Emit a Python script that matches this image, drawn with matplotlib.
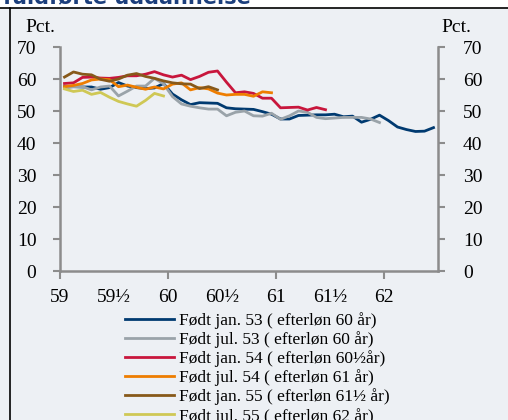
import matplotlib
matplotlib.use("Agg")
import matplotlib.pyplot as plt
import numpy as np
from matplotlib.lines import Line2D
from matplotlib.patches import Rectangle

# monthly values, one series per cohort (each cohort 6 months shorter)
jan53 = [57.6, 57.6, 57.5, 57.5, 56.8, 57.3, 58.9, 57.8, 57.3, 57.0, 57.2, 58.6,
         55.3, 53.5, 52.0, 52.6, 52.5, 52.4, 51.0, 50.7, 50.6, 50.5, 49.8, 49.0,
         47.5, 47.5, 48.6, 48.7, 48.8, 48.8, 49.0, 48.2, 48.4, 46.5, 47.4, 48.7,
         47.0, 45.0, 44.2, 43.6, 43.7, 44.8]
jul53 = [57.1, 57.6, 57.6, 56.6, 57.5, 57.8, 54.7, 56.2, 57.8, 57.8, 60.2, 58.5,
         54.5, 52.2, 51.5, 51.0, 50.6, 50.6, 48.5, 49.6, 50.0, 48.5, 48.4, 49.3,
         47.4, 48.5, 50.0, 49.6, 48.0, 47.6, 47.8, 48.0, 48.0, 48.0, 47.5, 46.4]
jan54 = [58.6, 58.8, 60.5, 60.6, 60.3, 60.2, 60.5, 61.0, 61.0, 61.5, 62.3, 61.3,
         60.6, 61.2, 59.8, 60.8, 62.1, 62.5, 59.0, 55.7, 56.0, 55.5, 54.0, 54.0,
         51.0, 51.1, 51.2, 50.3, 51.1, 50.4]
jul54 = [57.6, 58.0, 58.6, 59.7, 60.0, 59.8, 57.6, 58.1, 57.4, 56.8, 57.5, 56.9,
         58.4, 58.8, 56.6, 57.3, 56.9, 55.6, 55.0, 55.2, 55.2, 54.6, 56.0, 55.7]
jan55 = [60.6, 62.2, 61.5, 61.3, 59.9, 59.3, 60.0, 61.2, 61.7, 60.8, 60.2, 59.4,
         58.8, 58.5, 58.4, 57.0, 57.6, 56.6]
jul55 = [56.9, 56.1, 56.5, 55.2, 55.8, 54.3, 53.0, 52.2, 51.5, 53.3, 55.5, 54.7]

series = [jan53, jul53, jan54, jul54, jan55, jul55]
labels = ["Født jan. 53 ( efterløn 60 år)",
          "Født jul. 53 ( efterløn 60 år)",
          "Født jan. 54 ( efterløn 60½år)",
          "Født jul. 54 ( efterløn 61 år)",
          "Født jan. 55 ( efterløn 61½ år)",
          "Født jul. 55 ( efterløn 62 år)"]
colors = ["#003a70", "#9aa3a9", "#c8163c", "#ee7d00", "#87591a", "#cfc855"]

xtick_labels = ["59", "59½", "60", "60½", "61", "61½", "62"]
yticks = [0, 10, 20, 30, 40, 50, 60, 70]

plt.rcParams['font.family'] = ['Liberation Serif', 'DejaVu Serif']
bg = "#edf0f4"
axis_col = "#8c8c8c"

W, H = 508, 420
fig = plt.figure(figsize=(W / 100, H / 100), dpi=100)
fig.patch.set_facecolor(bg)

ax = fig.add_axes([60 / W, 1 - 271 / H, 378 / W, 224 / H])
ax.set_facecolor(bg)
n_cat = len(jan53)
for vals, col, lab in zip(series, colors, labels):
    x = np.arange(len(vals)) + 0.5
    ax.plot(x, vals, color=col, lw=2.0, label=lab, solid_joinstyle='round')

ax.set_xlim(0, n_cat)
ax.set_ylim(0, 70)
ax.set_yticks(yticks)
# labels every half year, tick marks every year
ax.xaxis.remove_overlapping_locs = False
ax.set_xticks(np.arange(0, 37, 6))
ax.set_xticklabels(xtick_labels)
ax.set_xticks(np.arange(0, 37, 12), minor=True)
ax.tick_params(axis='x', which='major', length=0, pad=13, labelsize=14)
ax.tick_params(axis='x', which='minor', length=6, width=1.5, color=axis_col)
ax.tick_params(axis='y', length=5, width=1.5, color=axis_col, labelsize=14, pad=12)

for s in ['top', 'right']:
    ax.spines[s].set_visible(False)
for s in ['left', 'bottom']:
    ax.spines[s].set_color(axis_col)
    ax.spines[s].set_linewidth(1.8)

ax2 = ax.twinx()
ax2.set_ylim(0, 70)
ax2.set_yticks(yticks)
ax2.tick_params(axis='y', length=5, width=1.5, color=axis_col, labelsize=14, pad=13)
for s in ['top', 'left', 'bottom']:
    ax2.spines[s].set_visible(False)
ax2.spines['right'].set_color(axis_col)
ax2.spines['right'].set_linewidth(1.8)

fig.text(40 / W, 1 - 27 / H, "Pct.", ha='center', va='center', fontsize=14)
fig.text(456 / W, 1 - 27 / H, "Pct.", ha='center', va='center', fontsize=14)

handles, labs = ax.get_legend_handles_labels()
fig.legend(handles, labs, loc='upper left', bbox_to_anchor=(125 / W, 1 - 312 / H),
           frameon=False, fontsize=12.5, borderpad=0, borderaxespad=0,
           handlelength=2.8, handletextpad=0.3, labelspacing=0.13)

# frame from the surrounding page
fig.add_artist(Rectangle((0, 1 - 8 / H), 1, 8 / H, transform=fig.transFigure,
                         facecolor='white', edgecolor='none', zorder=0))
fig.text(3 / W, 1 - 3 / H, "fuldførte uddannelse", ha='left', va='baseline',
         fontsize=15, fontweight='bold', color="#1c3f7c", family='DejaVu Sans')
fig.add_artist(Line2D([0, 1], [1 - 8 / H, 1 - 8 / H], transform=fig.transFigure,
                      color='black', lw=1.2))
fig.add_artist(Line2D([9.5 / W, 9.5 / W], [0, 1 - 8 / H], transform=fig.transFigure,
                      color='black', lw=1.2))

fig.savefig("out.png", dpi=100, facecolor=fig.get_facecolor())
